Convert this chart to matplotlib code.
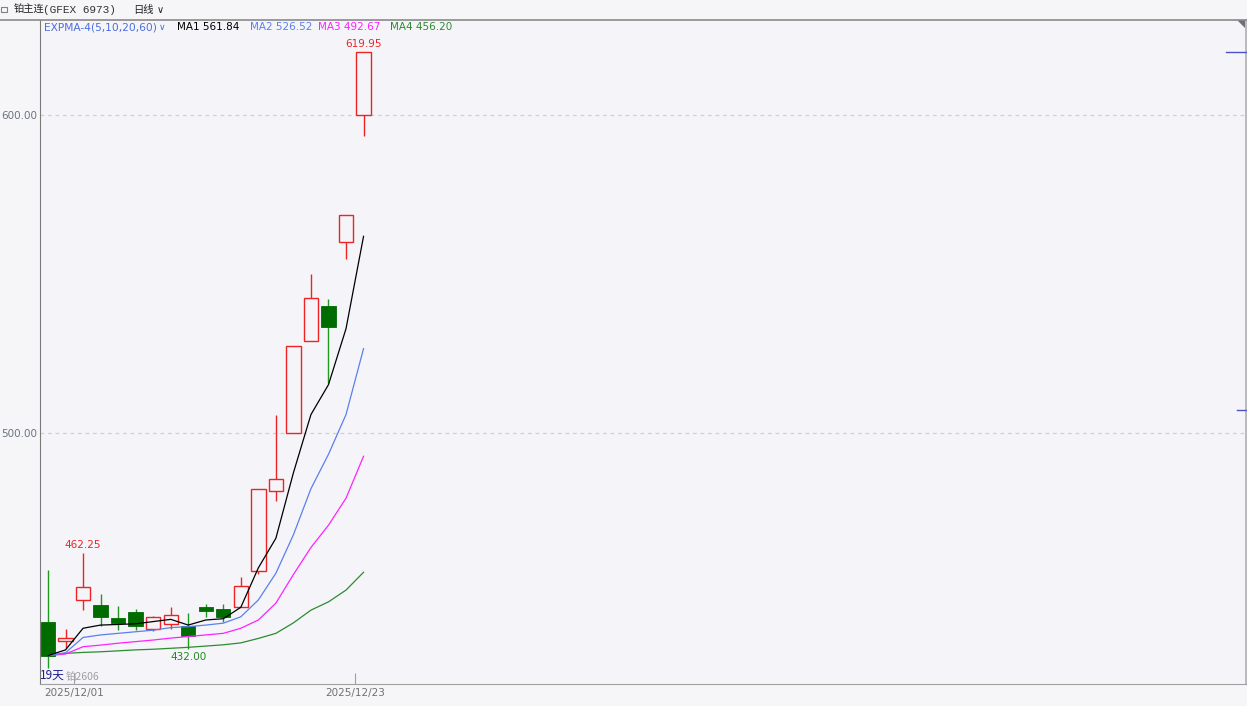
import matplotlib
matplotlib.use('Agg')
import matplotlib.pyplot as plt
import matplotlib.transforms as mtransforms
from matplotlib.patches import Rectangle, Polygon
from matplotlib.lines import Line2D

CJK = ['Noto Sans CJK SC', 'DejaVu Sans']

# trading days shown (19 bars)
dates = ['2025/11/27', '2025/11/28', '2025/12/01', '2025/12/02', '2025/12/03',
         '2025/12/04', '2025/12/05', '2025/12/08', '2025/12/09', '2025/12/10',
         '2025/12/11', '2025/12/12', '2025/12/15', '2025/12/16', '2025/12/17',
         '2025/12/18', '2025/12/19', '2025/12/22', '2025/12/23']
opens = [440.7, 434.6, 447.4, 445.9, 441.7, 443.7, 438.3, 439.9, 439.4, 445.2,
         444.5, 445.4, 456.7, 481.8, 500.0, 528.8, 539.9, 560.0, 600.0]
highs = [456.9, 438.5, 462.25, 449.5, 445.7, 444.7, 442.6, 445.4, 443.3, 446.2,
         446.2, 454.8, 482.3, 505.7, 527.4, 550.0, 542.1, 568.6, 619.95]
lows = [426.1, 432.4, 444.3, 439.4, 438.0, 438.0, 437.6, 438.3, 432.0, 442.2,
        440.7, 445.4, 455.7, 478.7, 500.0, 528.8, 515.8, 554.8, 593.4]
closes = [430.0, 435.4, 451.5, 442.0, 440.3, 439.3, 442.0, 442.9, 436.2, 444.1,
          442.0, 452.0, 482.3, 485.5, 527.4, 542.4, 533.2, 568.6, 619.95]

# EXPMA(5,10,20,60) lines
ma1 = [430.0, 431.8, 438.6, 439.6, 439.8, 440.0, 440.7, 441.4, 439.6, 441.2,
       441.6, 445.2, 457.6, 466.9, 487.5, 505.8, 515.2, 532.8, 561.84]
ma2 = [430.0, 430.9, 435.7, 436.5, 437.0, 437.5, 438.0, 438.8, 439.1, 439.6,
       440.2, 442.2, 447.5, 455.9, 468.0, 482.5, 493.3, 505.8, 526.52]
ma3 = [430.0, 430.5, 432.8, 433.3, 433.9, 434.4, 434.9, 435.5, 436.0, 436.5,
       437.0, 438.6, 441.2, 446.5, 455.5, 464.0, 471.0, 479.5, 492.67]
ma4 = [430.0, 430.7, 431.0, 431.2, 431.5, 431.8, 432.0, 432.3, 432.6, 433.0,
       433.4, 434.0, 435.4, 437.0, 440.3, 444.3, 446.9, 450.6, 456.20]
ma_names = ['MA1', 'MA2', 'MA3', 'MA4']
ma_colors = ['#000000', '#5a80ee', '#ff22ff', '#2e8b2e']

ytick_vals = [500, 600]
date_labels = ['2025/12/01', '2025/12/23']
right_marks = [619.95, 507.2]

W, H = 1247, 706
RED = '#ee2424'
GREEN_BODY = '#006c00'
GREEN_WICK = '#1f9a1f'
BG = '#f4f4f9'

fig = plt.figure(figsize=(W / 100, H / 100), dpi=100, facecolor='#f6f6f8')
ax = fig.add_axes([40 / W, 1 - 684 / H, (1245.5 - 40) / W, (684 - 20) / H])
ax.set_facecolor(BG)
ax.set_xlim(-0.456, 68.31)
ax.set_ylim(421.07, 629.87)

# grid
for v in ytick_vals:
    ax.axhline(v, color='#cfcfd8', lw=0.9, ls=(0, (3, 3)), zorder=0)

# candles
bw = 0.82
for i, (o, h, l, c) in enumerate(zip(opens, highs, lows, closes)):
    top, bot = max(o, c), min(o, c)
    if c >= o:
        ax.vlines(i, top, h, color=RED, lw=1, zorder=2)
        ax.vlines(i, l, bot, color=RED, lw=1, zorder=2)
        ax.bar(i, top - bot, bottom=bot, width=bw, facecolor=BG,
               edgecolor=RED, lw=1, zorder=3)
    else:
        ax.vlines(i, l, h, color=GREEN_WICK, lw=1, zorder=2)
        ax.bar(i, top - bot, bottom=bot, width=bw, facecolor=GREEN_BODY,
               edgecolor=GREEN_BODY, lw=0.6, zorder=3)

# moving averages
x = list(range(len(closes)))
for vals, col in zip([ma4, ma3, ma2, ma1], ma_colors[::-1]):
    ax.plot(x, vals, color=col, lw=0.9, zorder=4)

# high / low labels
hi = highs.index(max(highs))
ax.annotate('%.2f' % highs[hi], (hi, highs[hi]), xytext=(0, 2),
            textcoords='offset points', ha='center', va='bottom',
            color=RED, fontsize=7.5)
hi2 = highs.index(max(highs[:12]))
ax.annotate('%.2f' % highs[hi2], (hi2, highs[hi2]), xytext=(0, 2),
            textcoords='offset points', ha='center', va='bottom',
            color=RED, fontsize=7.5)
lo = lows.index(min(lows[1:]))
ax.annotate('%.2f' % lows[lo], (lo, lows[lo]), xytext=(0, -2),
            textcoords='offset points', ha='center', va='top',
            color='#1f8a1f', fontsize=7.5)

# axes styling
ax.spines['top'].set_visible(False)
ax.spines['left'].set_color('#7a7a7a')
ax.spines['bottom'].set_color('#a0a0a0')
ax.spines['right'].set_color('#b0b0b0')
ax.spines['right'].set_linewidth(1.2)
ax.set_yticks(ytick_vals)
ax.set_yticklabels(['%.2f' % v for v in ytick_vals])
ax.tick_params(axis='y', length=0, pad=2, labelsize=7.5, labelcolor='#6a7284')
ax.set_xticks([dates.index(d) - 0.5 for d in date_labels])
ax.set_xticklabels(date_labels)
ax.tick_params(axis='x', direction='in', length=8, color='#a0a0a0',
               pad=3, labelsize=7.5, labelcolor='#707070')

# marks on the right edge
trans = mtransforms.blended_transform_factory(ax.transAxes, ax.transData)
ax.plot([1 - 20 / 1205.5, 1], [right_marks[0]] * 2, color='#5050c8', lw=1,
        transform=trans, clip_on=False, zorder=5)
ax.plot([1 - 9 / 1205.5, 1], [right_marks[1]] * 2, color='#5050c8', lw=1,
        transform=trans, clip_on=False, zorder=5)

# header line and corner triangle
fig.add_artist(Line2D([0, 1], [1 - 20 / H] * 2, color='#8a8a8a', lw=1.2))
fig.add_artist(Polygon([[1237 / W, 1 - 20 / H], [1245 / W, 1 - 20 / H],
                        [1245 / W, 1 - 28 / H]], closed=True,
                       facecolor='#707070', edgecolor='none'))

# header text
fig.add_artist(Rectangle((1 / W, 1 - 12 / H), 6 / W, 5 / H, fill=False,
                         edgecolor='#808080', lw=0.8))
fig.text(14 / W, 1 - 10 / H, '铂主连', family=CJK, fontsize=7.4,
         color='#222222', va='center')
fig.text(43 / W, 1 - 10 / H, '(GFEX 6973)', family='Liberation Mono',
         fontsize=8, color='#333333', va='center')
fig.text(133 / W, 1 - 10 / H, '日线', family=CJK, fontsize=7.4,
         color='#222222', va='center')
fig.text(157 / W, 1 - 10 / H, '∨', fontsize=7, color='#222222', va='center')

# indicator legend
ty = 1 - 27.5 / H
fig.text(44 / W, ty, 'EXPMA-4(5,10,20,60)', fontsize=7.7, color='#4a6ee0',
         va='center')
fig.text(159 / W, ty, '∨', fontsize=6.5, color='#4a6ee0', va='center')
legend_x = [177, 250, 318, 390]
last_vals = [ma1[-1], ma2[-1], ma3[-1], ma4[-1]]
for name, val, col, lx in zip(ma_names, last_vals, ma_colors, legend_x):
    fig.text(lx / W, ty, '%s %.2f' % (name, val), fontsize=7.5, color=col,
             va='center')

# bar count and contract labels
fig.text(40 / W, 1 - 675.5 / H, '%d天' % len(closes), family=CJK,
         fontsize=8.5, color='#20208a', va='center')
fig.text(66 / W, 1 - 677 / H, '铂2606', family=CJK, fontsize=7.5,
         color='#a0a0a0', va='center')

fig.savefig('out.png', dpi=100, facecolor=fig.get_facecolor())
